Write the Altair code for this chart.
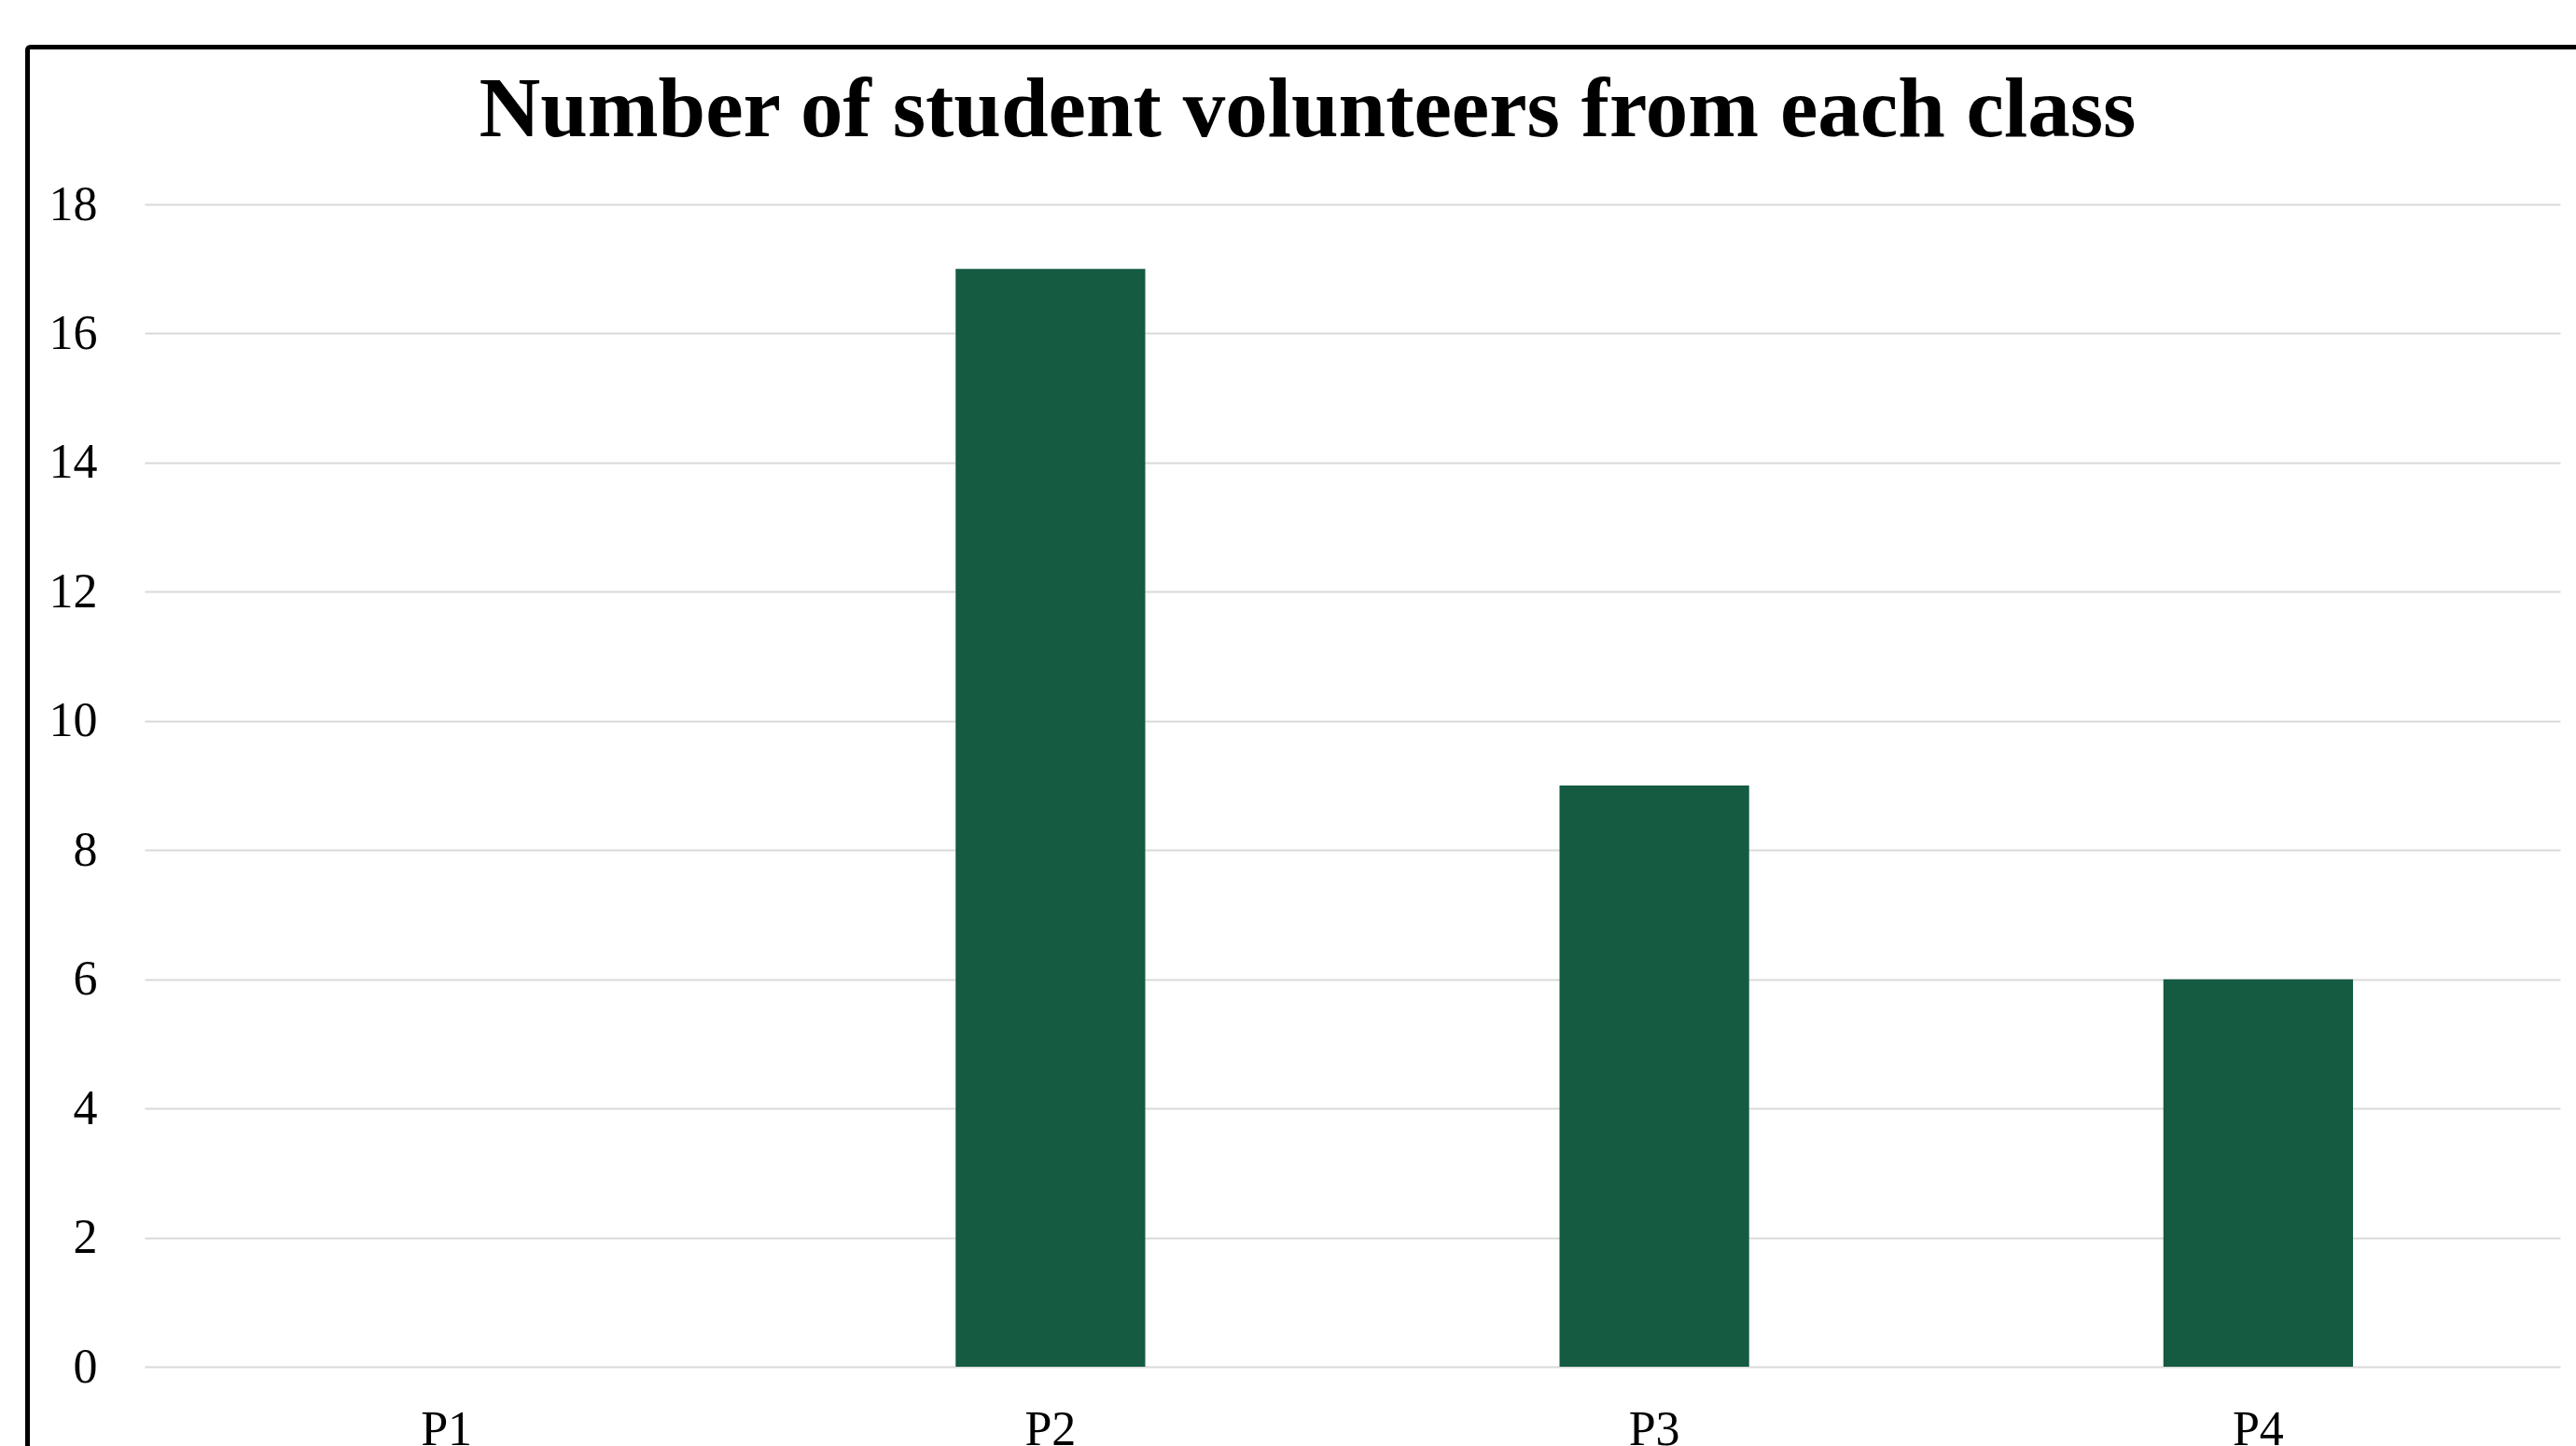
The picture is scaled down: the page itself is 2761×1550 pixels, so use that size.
import altair as alt
import pandas as pd

classes = ["P1", "P2", "P3", "P4"]
volunteers = [0, 17, 9, 6]
y_ticks = [0, 2, 4, 6, 8, 10, 12, 14, 16, 18]
title_text = "Number of student volunteers from each class"

df = pd.DataFrame({"Class": classes, "Volunteers": volunteers})

PLOT_W = 2589
PLOT_H = 1246
FONT = "Liberation Serif"

bars = alt.Chart(df).mark_bar(color="#145B42").encode(
    x=alt.X(
        "Class:N",
        sort=classes,
        title=None,
        scale=alt.Scale(paddingInner=0.686, paddingOuter=0.343),
        axis=alt.Axis(
            labelAngle=0,
            domain=False,
            ticks=False,
            grid=False,
            labelFont=FONT,
            labelFontSize=52,
            labelColor="#000000",
            labelBaseline="alphabetic",
            labelPadding=83,
        ),
    ),
    y=alt.Y(
        "Volunteers:Q",
        title=None,
        scale=alt.Scale(domain=[0, 18], nice=False),
        axis=alt.Axis(
            values=y_ticks,
            domain=False,
            ticks=False,
            grid=True,
            gridColor="#D9D9D9",
            gridWidth=2,
            labelFont=FONT,
            labelFontSize=52,
            labelColor="#000000",
            labelPadding=51,
        ),
    ),
)

frame = alt.Chart(pd.DataFrame({"a": [0]})).mark_rect(
    filled=False, stroke="#000000", strokeWidth=5, cornerRadius=3
).encode(
    x=alt.value(-125.5),
    x2=alt.value(PLOT_W + 80),
    y=alt.value(-168.5),
    y2=alt.value(PLOT_H + 150),
)

chart = alt.layer(bars, frame).properties(
    width=PLOT_W,
    height=PLOT_H,
    autosize=alt.AutoSizeParams(type="none"),
    padding={"left": 155, "top": 219, "right": 17, "bottom": 85},
    title=alt.TitleParams(
        text=title_text,
        font=FONT,
        fontSize=91,
        fontWeight="bold",
        color="#000000",
        anchor="middle",
        frame="group",
        baseline="alphabetic",
        offset=0,
        dx=-48,
        dy=189,
    ),
).configure(background="white").configure_view(strokeWidth=0, stroke="transparent")

chart.save("out.html", embed_options={"renderer": "svg", "actions": False})
